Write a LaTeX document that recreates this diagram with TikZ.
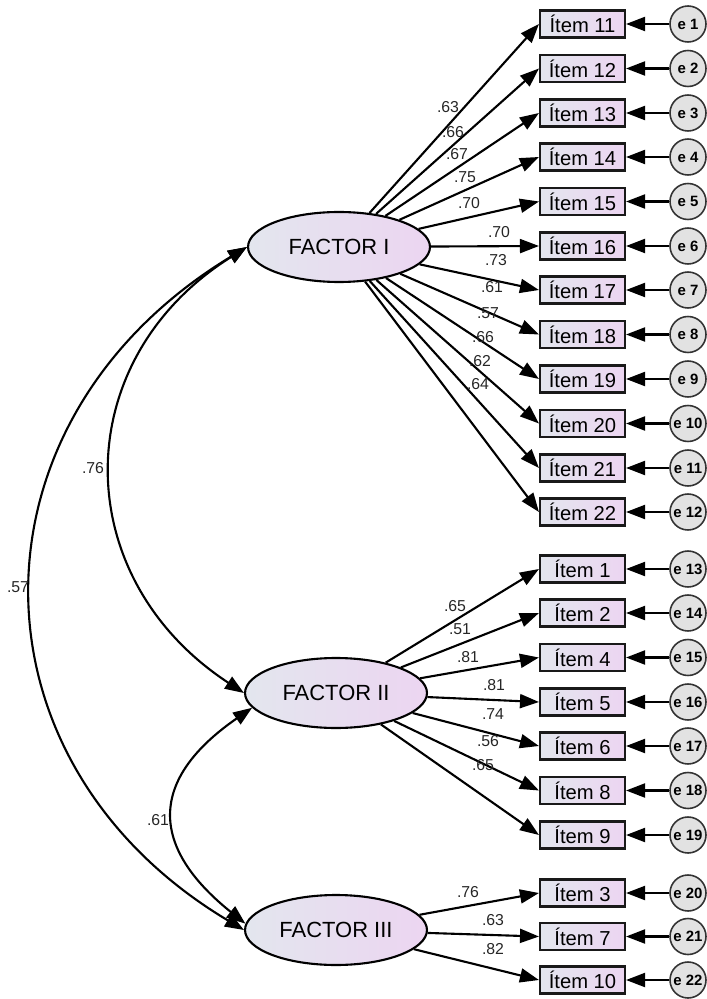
\documentclass[tikz,border=0pt]{standalone}
\usepackage{fontspec}
\setmainfont{Liberation Sans}
\usetikzlibrary{shapes.geometric,arrows.meta}
\definecolor{boxleft}{HTML}{E3E6EE}
\definecolor{boxright}{HTML}{ECD5F1}
\definecolor{errfill}{HTML}{E2E2E2}
\tikzset{
	item/.style={draw=black!90, line width=1.2pt, rectangle, left color=boxleft, right color=boxright, minimum width=1.7cm, minimum height=0.54cm, inner sep=0pt, font=\fontsize{11.5}{12}\selectfont},
	factor/.style={draw=black, line width=1.2pt, ellipse, left color=boxleft, right color=boxright, minimum width=3.64cm, minimum height=1.4cm, inner sep=0pt, font=\fontsize{12.5}{14}\selectfont},
	err/.style={draw=black!80, line width=0.9pt, circle, fill=errfill, minimum size=0.72cm, inner sep=0pt, font=\bfseries\fontsize{8.5}{10}\selectfont},
	load/.style={line width=1.2pt, -{Triangle[length=0.38cm, width=0.28cm]}},
	cov/.style={line width=1.2pt, {Triangle[length=0.38cm, width=0.28cm]}-{Triangle[length=0.38cm, width=0.28cm]}},
	coef/.style={font=\fontsize{9}{10}\selectfont, text=black!85, inner sep=0pt}
}

\begin{document}
\begin{tikzpicture}[x=0.02cm, y=-0.02cm]
		%%%%% START %%%%%
		\useasboundingbox (0, 0) rectangle (706, 999);
		
		\node[factor] (f1) at (339, 247) {FACTOR I};
		\node[factor] (f2) at (336, 693) {FACTOR II};
		\node[factor] (f3) at (336, 930) {FACTOR III};
		
		%% items of factor I
		\node[item] (i11) at (582.5, 24) {Ítem 11};
		\node[item] (i12) at (582.5, 68.5) {Ítem 12};
		\node[item] (i13) at (582.5, 113) {Ítem 13};
		\node[item] (i14) at (582.5, 157) {Ítem 14};
		\node[item] (i15) at (582.5, 201.5) {Ítem 15};
		\node[item] (i16) at (582.5, 246) {Ítem 16};
		\node[item] (i17) at (582.5, 290) {Ítem 17};
		\node[item] (i18) at (582.5, 334.5) {Ítem 18};
		\node[item] (i19) at (582.5, 379) {Ítem 19};
		\node[item] (i20) at (582.5, 423.5) {Ítem 20};
		\node[item] (i21) at (582.5, 468) {Ítem 21};
		\node[item] (i22) at (582.5, 512) {Ítem 22};
		
		%% items of factor II
		\node[item] (i1) at (582.5, 569) {Ítem 1};
		\node[item] (i2) at (582.5, 613) {Ítem 2};
		\node[item] (i4) at (582.5, 657.5) {Ítem 4};
		\node[item] (i5) at (582.5, 702) {Ítem 5};
		\node[item] (i6) at (582.5, 746) {Ítem 6};
		\node[item] (i8) at (582.5, 790.5) {Ítem 8};
		\node[item] (i9) at (582.5, 835) {Ítem 9};
		
		%% items of factor III
		\node[item] (i3) at (582.5, 893) {Ítem 3};
		\node[item] (i7) at (582.5, 936.5) {Ítem 7};
		\node[item] (i10) at (582.5, 980) {Ítem 10};
		
		%% error terms
		\node[err] (e1) at (688, 24) {e 1};
		\node[err] (e2) at (688, 68.5) {e 2};
		\node[err] (e3) at (688, 113) {e 3};
		\node[err] (e4) at (688, 157) {e 4};
		\node[err] (e5) at (688, 201.5) {e 5};
		\node[err] (e6) at (688, 246) {e 6};
		\node[err] (e7) at (688, 290) {e 7};
		\node[err] (e8) at (688, 334.5) {e 8};
		\node[err] (e9) at (688, 379) {e 9};
		\node[err] (e10) at (688, 423.5) {e 10};
		\node[err] (e11) at (688, 468) {e 11};
		\node[err] (e12) at (688, 512) {e 12};
		\node[err] (e13) at (688, 569) {e 13};
		\node[err] (e14) at (688, 613) {e 14};
		\node[err] (e15) at (688, 657.5) {e 15};
		\node[err] (e16) at (688, 702) {e 16};
		\node[err] (e17) at (688, 746) {e 17};
		\node[err] (e18) at (688, 790.5) {e 18};
		\node[err] (e19) at (688, 835) {e 19};
		\node[err] (e20) at (688, 893) {e 20};
		\node[err] (e21) at (688, 936.5) {e 21};
		\node[err] (e22) at (688, 980) {e 22};
		
		\draw[load] (e1) -- (i11);   \draw[load] (e2) -- (i12);
		\draw[load] (e3) -- (i13);   \draw[load] (e4) -- (i14);
		\draw[load] (e5) -- (i15);   \draw[load] (e6) -- (i16);
		\draw[load] (e7) -- (i17);   \draw[load] (e8) -- (i18);
		\draw[load] (e9) -- (i19);   \draw[load] (e10) -- (i20);
		\draw[load] (e11) -- (i21);  \draw[load] (e12) -- (i22);
		\draw[load] (e13) -- (i1);   \draw[load] (e14) -- (i2);
		\draw[load] (e15) -- (i4);   \draw[load] (e16) -- (i5);
		\draw[load] (e17) -- (i6);   \draw[load] (e18) -- (i8);
		\draw[load] (e19) -- (i9);   \draw[load] (e20) -- (i3);
		\draw[load] (e21) -- (i7);   \draw[load] (e22) -- (i10);
		
		%% loadings
		\draw[load] (f1) -- (i11.west);  \draw[load] (f1) -- (i12.west);
		\draw[load] (f1) -- (i13.west);  \draw[load] (f1) -- (i14.west);
		\draw[load] (f1) -- (i15.west);  \draw[load] (f1) -- (i16.west);
		\draw[load] (f1) -- (i17.west);  \draw[load] (f1) -- (i18.west);
		\draw[load] (f1) -- (i19.west);  \draw[load] (f1) -- (i20.west);
		\draw[load] (f1) -- (i21.west);  \draw[load] (f1) -- (i22.west);
		
		\draw[load] (f2) -- (i1.west);  \draw[load] (f2) -- (i2.west);
		\draw[load] (f2) -- (i4.west);  \draw[load] (f2) -- (i5.west);
		\draw[load] (f2) -- (i6.west);  \draw[load] (f2) -- (i8.west);
		\draw[load] (f2) -- (i9.west);
		
		\draw[load] (f3) -- (i3.west);  \draw[load] (f3) -- (i7.west);
		\draw[load] (f3) -- (i10.west);
		
		\node[coef] (c11) at (448, 107) {.63};
		\node[coef] (c12) at (453, 132) {.66};
		\node[coef] (c13) at (457, 154) {.67};
		\node[coef] (c14) at (465, 177) {.75};
		\node[coef] (c15) at (469, 203) {.70};
		\node[coef] (c16) at (499, 232) {.70};
		\node[coef] (c17) at (496, 260) {.73};
		\node[coef] (c18) at (492, 287) {.61};
		\node[coef] (c19) at (488, 313) {.57};
		\node[coef] (c20) at (483, 337) {.66};
		\node[coef] (c21) at (480, 361) {.62};
		\node[coef] (c22) at (478, 384) {.64};
		
		\node[coef] (c1) at (455, 606) {.65};
		\node[coef] (c2) at (460, 629) {.51};
		\node[coef] (c4) at (468, 657) {.81};
		\node[coef] (c5) at (494, 685) {.81};
		\node[coef] (c6) at (493, 714) {.74};
		\node[coef] (c8) at (488, 741) {.56};
		\node[coef] (c9) at (483, 765) {.65};
		
		\node[coef] (c3) at (468, 892) {.76};
		\node[coef] (c7) at (493, 920) {.63};
		\node[coef] (c10) at (493, 949) {.82};
		
		%% covariances
		\draw[cov] (f1.west) .. controls +(-180, 113) and +(-177, -116) .. (f2.west);
		\draw[cov] (f1.west) .. controls +(-286, 173) and +(-283, -169) .. (f3.west);
		\draw[cov] (f2.190) .. controls +(-104, 72) and +(-96, -77) .. (f3.176);
		
		\node[coef] (k12) at (93, 468) {.76};
		\node[coef] (k13) at (18, 587) {.57};
		\node[coef] (k23) at (158, 820) {.61};
		
		%%%%% END %%%%%
\end{tikzpicture}
\end{document}
